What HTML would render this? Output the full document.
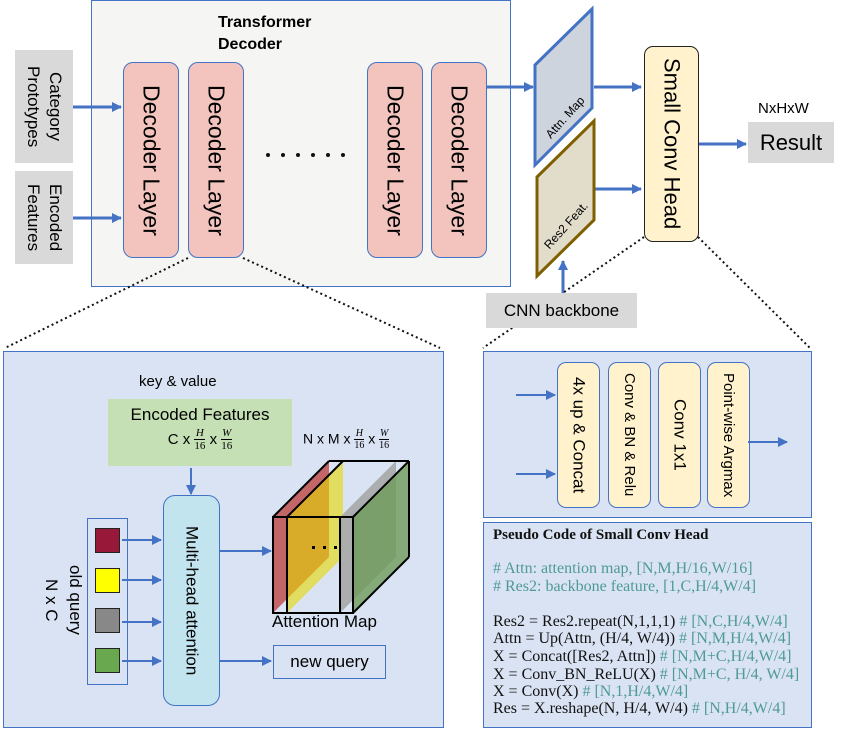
<!DOCTYPE html>
<html><head><meta charset="utf-8"><style>
body{margin:0;width:859px;height:750px;background:#fff;position:relative;overflow:hidden;font-family:"Liberation Sans",sans-serif}
.a{position:absolute;box-sizing:border-box}
.v{writing-mode:vertical-rl;display:flex;align-items:center;justify-content:center;text-align:center}
.dl{background:#f2c4bd;border:1.5px solid #4472c4;border-radius:10px;font-size:23px;height:196px;width:56px;top:62px}
.blk{background:#fff2cc;border:1.5px solid #4472c4;border-radius:9px;top:362px;height:146px;width:43px;font-size:15px}
.sq{position:absolute;left:95px;width:25px;height:25px;border:1.5px solid #222;box-sizing:border-box}
.code{font-family:"Liberation Serif",serif;font-size:16px;position:absolute;left:493px;white-space:nowrap;color:#111}
.c{color:#4e9a96}
</style></head><body>
<!-- transformer -->
<div class="a" style="left:91px;top:0;width:420px;height:287px;background:#f5f5f4;border:1.5px solid #4472c4"></div>
<div class="a" style="left:218px;top:12px;font-weight:bold;font-size:16px;line-height:22px">Transformer<br>Decoder</div>
<div class="a v" style="left:15px;top:50px;width:58px;height:113px;background:#d9d9d9;font-size:17px;line-height:22px">Category<br>Prototypes</div>
<div class="a v" style="left:15px;top:171px;width:58px;height:93px;background:#d9d9d9;font-size:17px;line-height:22px">Encoded<br>Features</div>
<div class="a v dl" style="left:123px">Decoder Layer</div>
<div class="a v dl" style="left:188px">Decoder Layer</div>
<div class="a v dl" style="left:367px">Decoder Layer</div>
<div class="a v dl" style="left:431px">Decoder Layer</div>
<div class="a" style="left:644px;top:46px;width:55px;height:196px;background:#fff2cc;border:1.5px solid #222;border-radius:9px"></div>
<div class="a v" style="left:644px;top:46px;width:55px;height:196px;font-size:22px">Small Conv Head</div>
<div class="a" style="left:758px;top:100px;font-size:15px">NxHxW</div>
<div class="a" style="left:748px;top:122px;width:86px;height:41px;background:#d9d9d9;font-size:22px;display:flex;align-items:center;justify-content:center">Result</div>

<!-- lower panels -->
<div class="a" style="left:3px;top:351px;width:441px;height:377px;background:#dae3f3;border:1.5px solid #4472c4"></div>
<div class="a" style="left:483px;top:351px;width:329px;height:167px;background:#dae3f3;border:1.5px solid #4472c4"></div>
<div class="a" style="left:483px;top:522px;width:329px;height:206px;background:#dae3f3;border:1.5px solid #4472c4"></div>

<div class="a" style="left:139px;top:373px;font-size:15px">key &amp; value</div>
<div class="a" style="left:108px;top:399px;width:184px;height:67px;background:#c5e0b4;text-align:center;font-size:17px;padding-top:6px">Encoded Features<div style="font-size:15px;margin-top:2px">C x <i style="font-family:'Liberation Serif',serif;display:inline-block;vertical-align:middle;line-height:13px;font-size:11px">H<br><span style="border-top:1px solid #000;font-style:normal">16</span></i> x <i style="font-family:'Liberation Serif',serif;display:inline-block;vertical-align:middle;line-height:13px;font-size:11px">W<br><span style="border-top:1px solid #000;font-style:normal">16</span></i></div></div>
<div class="a" style="left:303px;top:428px;font-size:14px">N x M x <i style="font-family:'Liberation Serif',serif;display:inline-block;vertical-align:middle;line-height:12px;font-size:10px;text-align:center">H<br><span style="border-top:1px solid #000;font-style:normal">16</span></i> x <i style="font-family:'Liberation Serif',serif;display:inline-block;vertical-align:middle;line-height:12px;font-size:10px;text-align:center">W<br><span style="border-top:1px solid #000;font-style:normal">16</span></i></div>
<div class="a v" style="left:163px;top:495px;width:57px;height:211px;background:#c1e4ee;border:1.5px solid #4472c4;border-radius:12px;font-size:17px">Multi-head attention</div>
<div class="a" style="left:87px;top:518px;width:41px;height:167px;border:1.5px solid #4472c4"></div>
<div class="sq" style="top:528px;background:#98183a"></div>
<div class="sq" style="top:568px;background:#ffff00"></div>
<div class="sq" style="top:608px;background:#888"></div>
<div class="sq" style="top:648px;background:#6aa84f"></div>
<div class="a v" style="left:38px;top:530px;width:50px;height:140px;font-size:17px;line-height:24px">old query<br>N x C</div>
<div class="a" style="left:273px;top:645px;width:113px;height:34px;border:1.5px solid #4472c4;font-size:17px;display:flex;align-items:center;justify-content:center">new query</div>
<div class="a" style="left:272px;top:612px;font-size:17px">Attention Map</div>

<div class="a v blk" style="left:557px;font-size:17px">4x up &amp; Concat</div>
<div class="a v blk" style="left:608px">Conv &amp; BN &amp; Relu</div>
<div class="a v blk" style="left:658px;font-size:17px">Conv 1x1</div>
<div class="a v blk" style="left:707px">Point-wise Argmax</div>

<div class="code" style="top:527px;font-weight:bold;font-size:15px">Pseudo Code of Small Conv Head</div>
<div class="code c" style="top:560px"># Attn: attention map, [N,M,H/16,W/16]</div>
<div class="code c" style="top:578px"># Res2: backbone feature, [1,C,H/4,W/4]</div>
<div class="code" style="top:613px">Res2 = Res2.repeat(N,1,1,1) <span class="c"># [N,C,H/4,W/4]</span></div>
<div class="code" style="top:630px">Attn = Up(Attn, (H/4, W/4)) <span class="c"># [N,M,H/4,W/4]</span></div>
<div class="code" style="top:648px">X = Concat([Res2, Attn]) <span class="c"># [N,M+C,H/4,W/4]</span></div>
<div class="code" style="top:666px">X = Conv_BN_ReLU(X) <span class="c"># [N,M+C, H/4, W/4]</span></div>
<div class="code" style="top:683px">X = Conv(X) <span class="c"># [N,1,H/4,W/4]</span></div>
<div class="code" style="top:700px">Res = X.reshape(N, H/4, W/4) <span class="c"># [N,H/4,W/4]</span></div>

<svg class="a" style="left:0;top:0" width="859" height="750">
<defs><marker id="ar" markerWidth="10" markerHeight="10" refX="9" refY="5" orient="auto" markerUnits="userSpaceOnUse"><path d="M0,0 L10,5 L0,10z" fill="#4472c4"/></marker></defs>
<g stroke="#4472c4" stroke-width="3" marker-end="url(#ar)">
<line x1="73" y1="107" x2="121" y2="107"/><line x1="73" y1="218" x2="121" y2="218"/>
<line x1="486" y1="87" x2="533" y2="87"/><line x1="594" y1="87" x2="641" y2="87"/>
<line x1="595" y1="189" x2="641" y2="189"/><line x1="699" y1="144" x2="746" y2="144"/>
<line x1="563" y1="293" x2="563" y2="261"/>
</g>
<g stroke="#4472c4" stroke-width="2" marker-end="url(#ar)">
<line x1="122" y1="540" x2="161" y2="540"/><line x1="122" y1="580" x2="161" y2="580"/>
<line x1="122" y1="622" x2="161" y2="622"/><line x1="122" y1="661" x2="161" y2="661"/>
<line x1="220" y1="551" x2="271" y2="551"/><line x1="220" y1="661" x2="271" y2="661"/>
<line x1="191" y1="468" x2="191" y2="494"/>
<line x1="516" y1="395" x2="555" y2="395"/><line x1="516" y1="474" x2="555" y2="474"/>
<line x1="748" y1="442" x2="787" y2="442"/>
</g>
<polygon points="535,65 592,9 592,108 535,165" fill="#ced4de" stroke="#4472c4" stroke-width="3"/>
<polygon points="537,177 594,121 594,220 537,276" fill="#e2dccb" stroke="#7f6000" stroke-width="3"/>
<text x="0" y="0" font-size="12" transform="translate(568,120) rotate(-48)" text-anchor="middle">Attn. Map</text>
<text x="0" y="0" font-size="12" transform="translate(569,228) rotate(-48)" text-anchor="middle">Res2 Feat.</text>
<g fill="#111"><circle cx="268" cy="155" r="2"/><circle cx="283" cy="155" r="2"/><circle cx="298" cy="155" r="2"/><circle cx="313" cy="155" r="2"/><circle cx="328" cy="155" r="2"/><circle cx="343" cy="155" r="2"/></g>
<g stroke="#111" stroke-width="2" stroke-dasharray="2,3" fill="none">
<line x1="188" y1="258" x2="5" y2="348"/><line x1="243" y1="258" x2="440" y2="348"/>
<line x1="644" y1="237" x2="483" y2="348"/><line x1="698" y1="237" x2="810" y2="348"/>
</g>
<!-- cube -->
<polygon points="273,613 273,517 329,461 329,557" fill="#c0504d" fill-opacity="0.85"/>
<polygon points="287,613 287,517 343,461 343,557" fill="#e6d800" fill-opacity="0.6"/>
<polygon points="340,613 340,517 396,461 396,557" fill="#a6a6a6" fill-opacity="0.9"/>
<polygon points="353,613 353,517 409,461 409,557" fill="#6e9b5a" fill-opacity="0.8"/>
<g stroke="#000" stroke-width="2" fill="none">
<rect x="273" y="517" width="80" height="96"/>
<line x1="287" y1="517" x2="287" y2="613"/><line x1="340" y1="517" x2="340" y2="613"/>
<line x1="273" y1="517" x2="329" y2="461"/><line x1="287" y1="517" x2="343" y2="461"/>
<line x1="329" y1="461" x2="409" y2="461"/><line x1="353" y1="517" x2="409" y2="461"/>
<line x1="409" y1="461" x2="409" y2="557"/><line x1="353" y1="613" x2="409" y2="557"/>
</g>
<g fill="#000"><rect x="312" y="546" width="3" height="3"/><rect x="323" y="546" width="3" height="3"/><rect x="334" y="546" width="3" height="3"/></g>
</svg>
<div class="a" style="left:486px;top:293px;width:151px;height:35px;background:#d9d9d9;font-size:17px;display:flex;align-items:center;justify-content:center;z-index:2">CNN backbone</div>
</body></html>
